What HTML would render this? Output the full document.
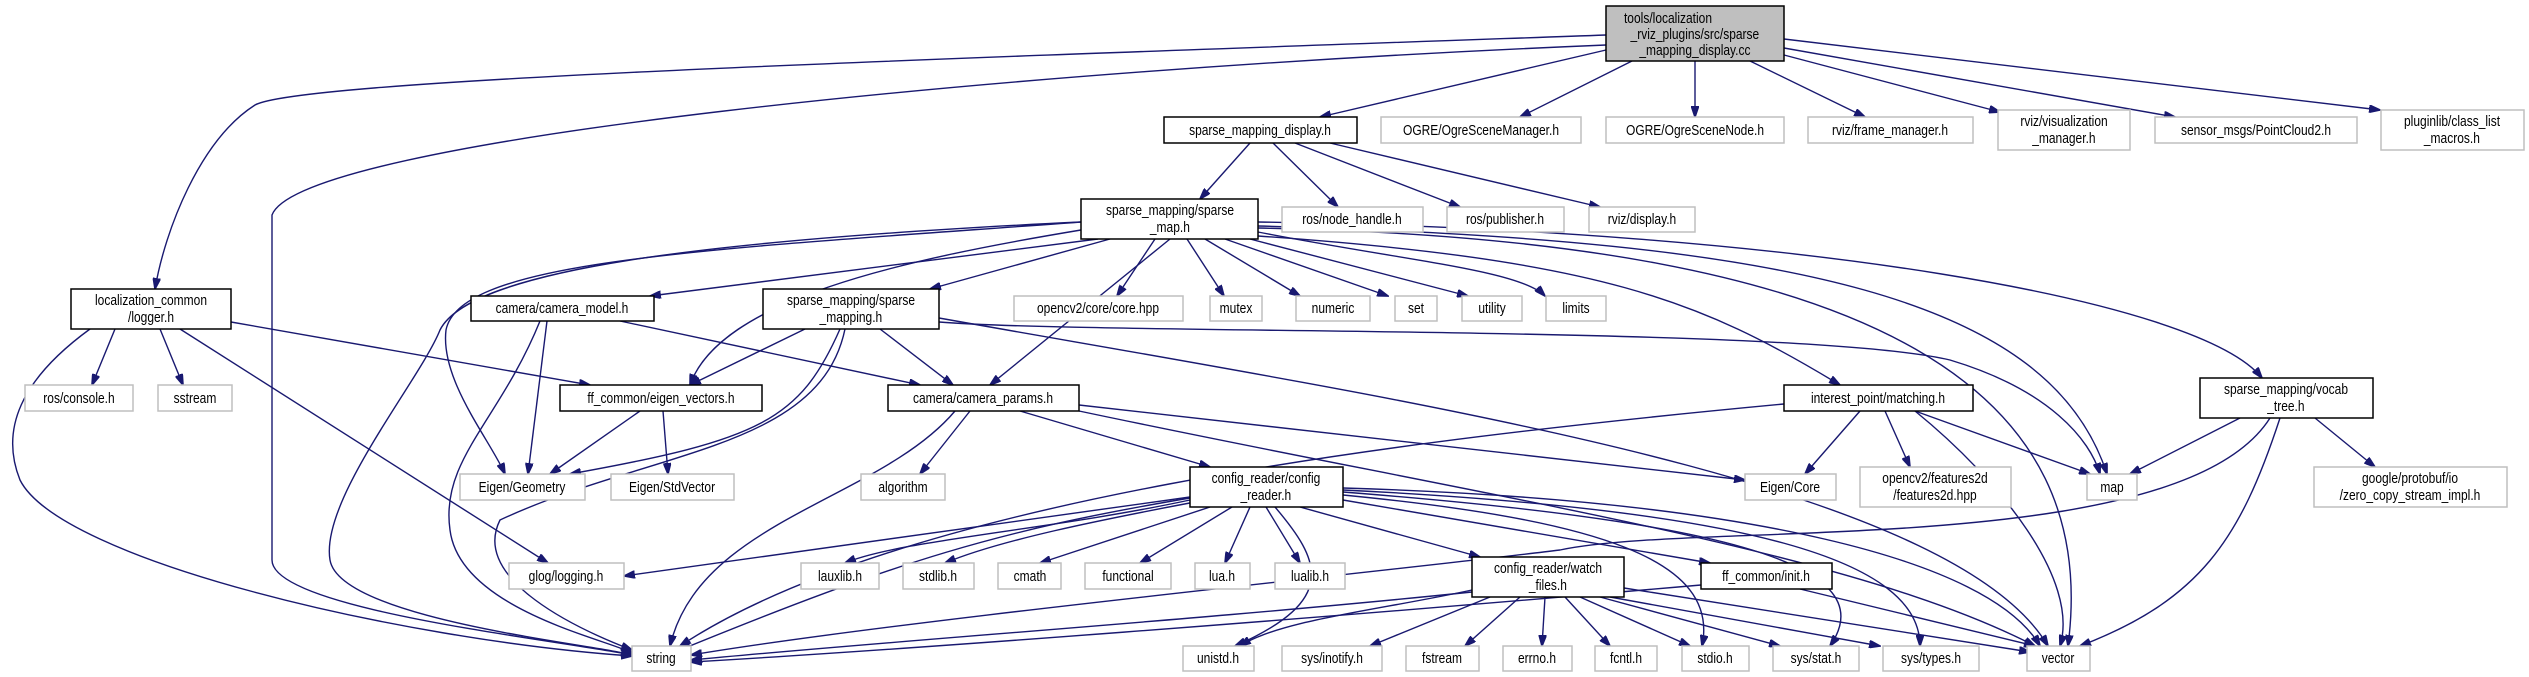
<!DOCTYPE html>
<html><head><meta charset="utf-8"><style>
html,body{margin:0;padding:0;background:#fff;}
svg{display:block;}
text{font-family:"Liberation Sans",sans-serif;font-size:15px;fill:#000;text-anchor:middle;transform-box:fill-box;transform-origin:center;transform:scaleX(0.8);}
.n{fill:#fff;stroke:#000;stroke-width:1.5;}
.g{fill:#fff;stroke:#bfbfbf;stroke-width:1.5;}
.r{fill:#bfbfbf;stroke:#000;stroke-width:1.5;}
path.e{fill:none;stroke:#191970;stroke-width:1.4;marker-end:url(#a);}
</style></head><body>
<svg width="2529" height="677" viewBox="0 0 2529 677" xmlns="http://www.w3.org/2000/svg">
<defs><marker id="a" markerWidth="12" markerHeight="8" refX="11" refY="4" orient="auto" markerUnits="userSpaceOnUse"><path d="M0,0 L12,4 L0,8 z" fill="#191970" stroke="#191970"/></marker></defs>
<g>
<path class="e" d="M1606,35 C900,60 300,80 255,105 C200,140 165,230 155,289"/>
<path class="e" d="M1606,45 C1000,70 300,140 272,215 L272,560 C272,610 560,640 632,655"/>
<path class="e" d="M1606,50 L1320,117"/>
<path class="e" d="M1632,61 L1520,117"/>
<path class="e" d="M1695,61 L1695,117"/>
<path class="e" d="M1750,61 L1865,117"/>
<path class="e" d="M1784,55 L2000,112"/>
<path class="e" d="M1784,48 L2175,117"/>
<path class="e" d="M1784,39 L2380,110"/>
<path class="e" d="M1250,143 L1200,199"/>
<path class="e" d="M1273,143 L1338,207"/>
<path class="e" d="M1295,143 L1460,207"/>
<path class="e" d="M1330,143 L1600,207"/>
<path class="e" d="M1098,239 L650,296"/>
<path class="e" d="M1110,239 L930,289"/>
<path class="e" d="M1155,239 L1117,296"/>
<path class="e" d="M1187,239 L1224,296"/>
<path class="e" d="M1205,239 L1300,296"/>
<path class="e" d="M1225,239 L1388,296"/>
<path class="e" d="M1250,239 L1468,296"/>
<path class="e" d="M1258,232 C1400,260 1520,270 1545,296"/>
<path class="e" d="M1081,230 C900,260 720,300 690,385"/>
<path class="e" d="M1170,239 L990,385"/>
<path class="e" d="M1258,236 C1600,260 1700,300 1840,385"/>
<path class="e" d="M1258,222 C1800,230 2200,300 2262,378"/>
<path class="e" d="M1258,226 C1800,240 2050,300 2107,474"/>
<path class="e" d="M1258,228 C1900,240 2100,400 2068,646"/>
<path class="e" d="M1081,222 C700,240 470,270 440,330 C420,380 320,500 330,560 C340,620 600,645 632,655"/>
<path class="e" d="M1081,222 C700,250 460,260 446,330 C440,380 490,440 505,474"/>
<path class="e" d="M115,329 L92,385"/>
<path class="e" d="M160,329 L183,385"/>
<path class="e" d="M180,329 L548,563"/>
<path class="e" d="M90,329 C20,380 0,430 20,480 C60,560 400,640 632,656"/>
<path class="e" d="M231,322 L590,385"/>
<path class="e" d="M547,321 L528,474"/>
<path class="e" d="M540,321 C500,420 440,460 450,530 C460,610 610,640 632,653"/>
<path class="e" d="M620,321 L920,385"/>
<path class="e" d="M805,329 L690,385"/>
<path class="e" d="M880,329 L953,385"/>
<path class="e" d="M840,329 C800,420 760,440 570,474"/>
<path class="e" d="M845,329 C820,450 650,450 500,520 C470,580 580,630 632,650"/>
<path class="e" d="M939,322 C1100,335 1800,325 1950,360 C2050,390 2090,440 2100,474"/>
<path class="e" d="M939,318 C1400,400 1950,480 2048,646"/>
<path class="e" d="M640,411 L550,474"/>
<path class="e" d="M663,411 L668,474"/>
<path class="e" d="M970,411 L920,474"/>
<path class="e" d="M955,411 C880,500 700,520 670,646"/>
<path class="e" d="M1020,411 L1210,467"/>
<path class="e" d="M1079,405 L1745,480"/>
<path class="e" d="M1079,411 C1500,500 1850,550 2035,646"/>
<path class="e" d="M1860,411 L1805,474"/>
<path class="e" d="M1885,411 L1910,467"/>
<path class="e" d="M1915,411 L2090,474"/>
<path class="e" d="M1915,411 C2000,480 2080,580 2060,646"/>
<path class="e" d="M1784,404 C1400,440 900,500 680,646"/>
<path class="e" d="M2240,418 L2130,474"/>
<path class="e" d="M2280,418 C2240,540 2200,600 2080,646"/>
<path class="e" d="M2315,418 L2375,467"/>
<path class="e" d="M2270,418 C2180,560 1700,520 1560,550 C1400,570 900,620 691,655"/>
<path class="e" d="M1190,497 L624,576"/>
<path class="e" d="M1190,500 C1050,530 900,540 845,563"/>
<path class="e" d="M1195,502 C1100,520 1000,540 945,563"/>
<path class="e" d="M1210,507 L1040,563"/>
<path class="e" d="M1232,507 L1140,563"/>
<path class="e" d="M1250,507 L1225,563"/>
<path class="e" d="M1266,507 L1300,563"/>
<path class="e" d="M1300,507 L1480,557"/>
<path class="e" d="M1343,500 L1710,563"/>
<path class="e" d="M1190,498 C1000,530 900,560 680,650"/>
<path class="e" d="M1275,507 C1320,560 1340,600 1235,646"/>
<path class="e" d="M1343,495 C1600,520 1720,560 1702,646"/>
<path class="e" d="M1343,492 C1700,520 1890,560 1830,646"/>
<path class="e" d="M1343,490 C1750,510 1920,560 1920,646"/>
<path class="e" d="M1343,488 C1750,500 1990,560 2040,646"/>
<path class="e" d="M1472,592 C1200,620 900,640 691,660"/>
<path class="e" d="M1472,590 C1380,610 1280,620 1240,646"/>
<path class="e" d="M1490,597 L1370,646"/>
<path class="e" d="M1520,597 L1465,646"/>
<path class="e" d="M1545,597 L1542,646"/>
<path class="e" d="M1565,597 L1610,646"/>
<path class="e" d="M1580,597 L1690,646"/>
<path class="e" d="M1600,597 L1780,646"/>
<path class="e" d="M1610,597 L1880,646"/>
<path class="e" d="M1624,588 L2030,652"/>
<path class="e" d="M1701,585 C1300,620 900,650 691,662"/>
<path class="e" d="M1800,589 L2035,646"/>
</g>
<g>
<rect class="r" x="1606" y="6" width="178" height="55"/><text x="1668" y="23">tools/localization</text><text x="1695" y="39">_rviz_plugins/src/sparse</text><text x="1695" y="55">_mapping_display.cc</text>
<rect class="n" x="1164" y="117" width="193" height="26"/><text x="1260" y="135">sparse_mapping_display.h</text>
<rect class="g" x="1381" y="117" width="200" height="26"/><text x="1481" y="135">OGRE/OgreSceneManager.h</text>
<rect class="g" x="1606" y="117" width="178" height="26"/><text x="1695" y="135">OGRE/OgreSceneNode.h</text>
<rect class="g" x="1808" y="117" width="165" height="26"/><text x="1890" y="135">rviz/frame_manager.h</text>
<rect class="g" x="1998" y="110" width="132" height="40"/><text x="2064" y="126">rviz/visualization</text><text x="2064" y="143">_manager.h</text>
<rect class="g" x="2155" y="117" width="202" height="26"/><text x="2256" y="135">sensor_msgs/PointCloud2.h</text>
<rect class="g" x="2381" y="110" width="143" height="40"/><text x="2452" y="126">pluginlib/class_list</text><text x="2452" y="143">_macros.h</text>
<rect class="g" x="1282" y="207" width="141" height="25"/><text x="1352" y="224">ros/node_handle.h</text>
<rect class="g" x="1447" y="207" width="117" height="25"/><text x="1505" y="224">ros/publisher.h</text>
<rect class="g" x="1589" y="207" width="106" height="25"/><text x="1642" y="224">rviz/display.h</text>
<rect class="n" x="1081" y="199" width="177" height="40"/><text x="1170" y="215">sparse_mapping/sparse</text><text x="1170" y="232">_map.h</text>
<rect class="n" x="71" y="289" width="160" height="40"/><text x="151" y="305">localization_common</text><text x="151" y="322">/logger.h</text>
<rect class="n" x="471" y="296" width="183" height="25"/><text x="562" y="313">camera/camera_model.h</text>
<rect class="n" x="763" y="289" width="176" height="40"/><text x="851" y="305">sparse_mapping/sparse</text><text x="851" y="322">_mapping.h</text>
<rect class="g" x="1014" y="296" width="169" height="25"/><text x="1098" y="313">opencv2/core/core.hpp</text>
<rect class="g" x="1210" y="296" width="52" height="25"/><text x="1236" y="313">mutex</text>
<rect class="g" x="1296" y="296" width="74" height="25"/><text x="1333" y="313">numeric</text>
<rect class="g" x="1395" y="296" width="42" height="25"/><text x="1416" y="313">set</text>
<rect class="g" x="1462" y="296" width="60" height="25"/><text x="1492" y="313">utility</text>
<rect class="g" x="1546" y="296" width="60" height="25"/><text x="1576" y="313">limits</text>
<rect class="g" x="25" y="385" width="108" height="26"/><text x="79" y="403">ros/console.h</text>
<rect class="g" x="158" y="385" width="74" height="26"/><text x="195" y="403">sstream</text>
<rect class="n" x="560" y="385" width="202" height="26"/><text x="661" y="403">ff_common/eigen_vectors.h</text>
<rect class="n" x="888" y="385" width="191" height="26"/><text x="983" y="403">camera/camera_params.h</text>
<rect class="n" x="1784" y="385" width="189" height="26"/><text x="1878" y="403">interest_point/matching.h</text>
<rect class="n" x="2200" y="378" width="173" height="40"/><text x="2286" y="394">sparse_mapping/vocab</text><text x="2286" y="411">_tree.h</text>
<rect class="g" x="460" y="474" width="125" height="26"/><text x="522" y="492">Eigen/Geometry</text>
<rect class="g" x="611" y="474" width="123" height="26"/><text x="672" y="492">Eigen/StdVector</text>
<rect class="g" x="861" y="474" width="84" height="26"/><text x="903" y="492">algorithm</text>
<rect class="n" x="1190" y="467" width="153" height="40"/><text x="1266" y="483">config_reader/config</text><text x="1266" y="500">_reader.h</text>
<rect class="g" x="1745" y="474" width="91" height="26"/><text x="1790" y="492">Eigen/Core</text>
<rect class="g" x="1860" y="467" width="151" height="40"/><text x="1935" y="483">opencv2/features2d</text><text x="1935" y="500">/features2d.hpp</text>
<rect class="g" x="2087" y="474" width="50" height="26"/><text x="2112" y="492">map</text>
<rect class="g" x="2314" y="467" width="193" height="40"/><text x="2410" y="483">google/protobuf/io</text><text x="2410" y="500">/zero_copy_stream_impl.h</text>
<rect class="g" x="509" y="563" width="115" height="26"/><text x="566" y="581">glog/logging.h</text>
<rect class="g" x="801" y="563" width="78" height="26"/><text x="840" y="581">lauxlib.h</text>
<rect class="g" x="903" y="563" width="71" height="26"/><text x="938" y="581">stdlib.h</text>
<rect class="g" x="998" y="563" width="63" height="26"/><text x="1030" y="581">cmath</text>
<rect class="g" x="1085" y="563" width="86" height="26"/><text x="1128" y="581">functional</text>
<rect class="g" x="1195" y="563" width="55" height="26"/><text x="1222" y="581">lua.h</text>
<rect class="g" x="1275" y="563" width="70" height="26"/><text x="1310" y="581">lualib.h</text>
<rect class="n" x="1472" y="557" width="152" height="40"/><text x="1548" y="573">config_reader/watch</text><text x="1548" y="590">_files.h</text>
<rect class="n" x="1701" y="563" width="131" height="26"/><text x="1766" y="581">ff_common/init.h</text>
<rect class="g" x="632" y="646" width="59" height="25"/><text x="661" y="663">string</text>
<rect class="g" x="1183" y="646" width="71" height="25"/><text x="1218" y="663">unistd.h</text>
<rect class="g" x="1282" y="646" width="100" height="25"/><text x="1332" y="663">sys/inotify.h</text>
<rect class="g" x="1406" y="646" width="73" height="25"/><text x="1442" y="663">fstream</text>
<rect class="g" x="1503" y="646" width="69" height="25"/><text x="1537" y="663">errno.h</text>
<rect class="g" x="1595" y="646" width="62" height="25"/><text x="1626" y="663">fcntl.h</text>
<rect class="g" x="1682" y="646" width="67" height="25"/><text x="1715" y="663">stdio.h</text>
<rect class="g" x="1773" y="646" width="86" height="25"/><text x="1816" y="663">sys/stat.h</text>
<rect class="g" x="1883" y="646" width="96" height="25"/><text x="1931" y="663">sys/types.h</text>
<rect class="g" x="2027" y="646" width="63" height="25"/><text x="2058" y="663">vector</text>
</g>
</svg>
</body></html>
